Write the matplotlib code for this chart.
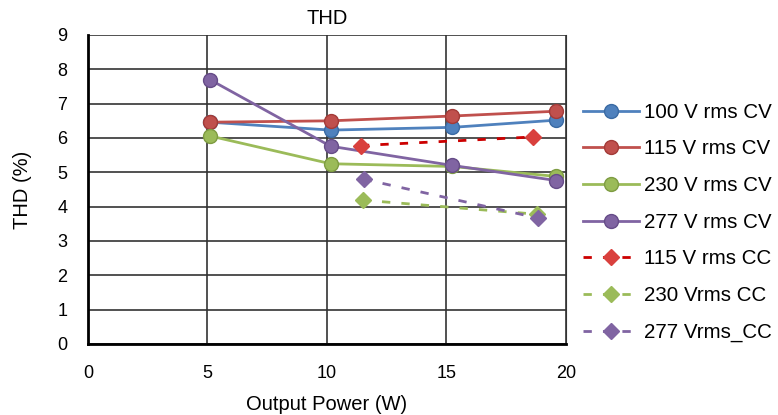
import matplotlib.pyplot as plt

plt.rcParams['font.family'] = ['Liberation Sans', 'DejaVu Sans']

# constant voltage series
cv_power = [5.1, 10.15, 15.25, 19.6]
thd_100_cv = [6.46, 6.23, 6.31, 6.52]
thd_115_cv = [6.46, 6.50, 6.64, 6.78]
thd_230_cv = [6.06, 5.25, 5.17, 4.88]
thd_277_cv = [7.70, 5.76, 5.20, 4.76]

# constant current series
cc_power_115 = [11.42, 18.63]
thd_115_cc = [5.78, 6.03]
cc_power_230 = [11.49, 18.77]
thd_230_cc = [4.19, 3.78]
cc_power_277 = [11.53, 18.81]
thd_277_cc = [4.80, 3.67]

fig = plt.figure(figsize=(7.78, 4.15), dpi=100)
ax = fig.add_axes([0.1131, 0.1711, 0.6144, 0.7446])

cv = [
    (thd_100_cv, '100 V rms CV', '#4F81BD', '#3A6AA3'),
    (thd_115_cv, '115 V rms CV', '#C0504D', '#A33B38'),
    (thd_230_cv, '230 V rms CV', '#9BBB59', '#7E9C42'),
    (thd_277_cv, '277 V rms CV', '#8064A2', '#664C88'),
]
for vals, label, color, edge in cv:
    ax.plot(cv_power, vals, color=color, lw=2, marker='o', markersize=10,
            markerfacecolor=color, markeredgecolor=edge, markeredgewidth=1, label=label)

cc = [
    (cc_power_115, thd_115_cc, '115 V rms CC', '#CC0000', '#D9403D'),
    (cc_power_230, thd_230_cc, '230 Vrms CC', '#9BBB59', '#9BBB59'),
    (cc_power_277, thd_277_cc, '277 Vrms_CC', '#8064A2', '#8064A2'),
]
for xs, vals, label, color, mcolor in cc:
    ax.plot(xs, vals, color=color, lw=2, linestyle=(0, (3, 4)), marker='D', markersize=8,
            markerfacecolor=mcolor, markeredgecolor=mcolor, label=label)

ax.set_xlim(0, 20)
ax.set_ylim(0, 9)
ax.set_xticks([0, 5, 10, 15, 20])
ax.set_yticks(range(10))
ax.grid(True, color='#333333', lw=1.2)
ax.tick_params(length=0, labelsize=13, pad=15)
for side in ['left', 'bottom']:
    ax.spines[side].set_linewidth(2)
ax.spines['top'].set_visible(False)
ax.spines['right'].set_color('#333333')

ax.set_title('THD', fontsize=14.5, pad=8)
ax.set_xlabel('Output Power (W)', fontsize=14.5)
ax.set_ylabel('THD (%)', fontsize=14.5)
ax.xaxis.set_label_coords(0.5, -0.165)
ax.yaxis.set_label_coords(-0.118, 0.5)

fig.legend(loc='center left', bbox_to_anchor=(0.749, 0.464), frameon=False,
           borderpad=0, borderaxespad=0,
           fontsize=14.8, handlelength=2.75, labelspacing=0.86, handletextpad=0.25)

fig.savefig('out.png', dpi=100)
